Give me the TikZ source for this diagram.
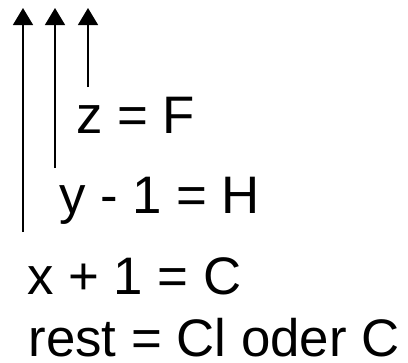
\documentclass[tikz,border=0pt]{standalone}
\usepackage{fontspec}
\setmainfont{Liberation Sans}
\usetikzlibrary{arrows.meta}
\begin{document}
\begin{tikzpicture}[x=1bp,y=-1bp,
  lbl/.style={anchor=base west,inner sep=0pt,outer sep=0pt,text depth=0pt,font=\fontsize{53}{60}\selectfont},
  uparrow/.style={line width=1.5bp,-{Triangle[length=17bp,width=20bp]}}]
\useasboundingbox (0,0) rectangle (408,363);
\node[lbl] (z) at (76,133) {z = F};
\node[lbl] (y) at (59,213) {y - 1 = H};
\node[lbl] (x) at (27,294) {x + 1 = C};
\node[lbl] (rest) at (28.5,356) {rest = Cl oder C};
\coordinate (a1s) at (23,232);
\coordinate (a1e) at (23,8);
\coordinate (a2s) at (55,168);
\coordinate (a2e) at (55,8);
\coordinate (a3s) at (88,87);
\coordinate (a3e) at (88,8);
\draw[uparrow] (a1s) -- (a1e);
\draw[uparrow] (a2s) -- (a2e);
\draw[uparrow] (a3s) -- (a3e);
\end{tikzpicture}
\end{document}
